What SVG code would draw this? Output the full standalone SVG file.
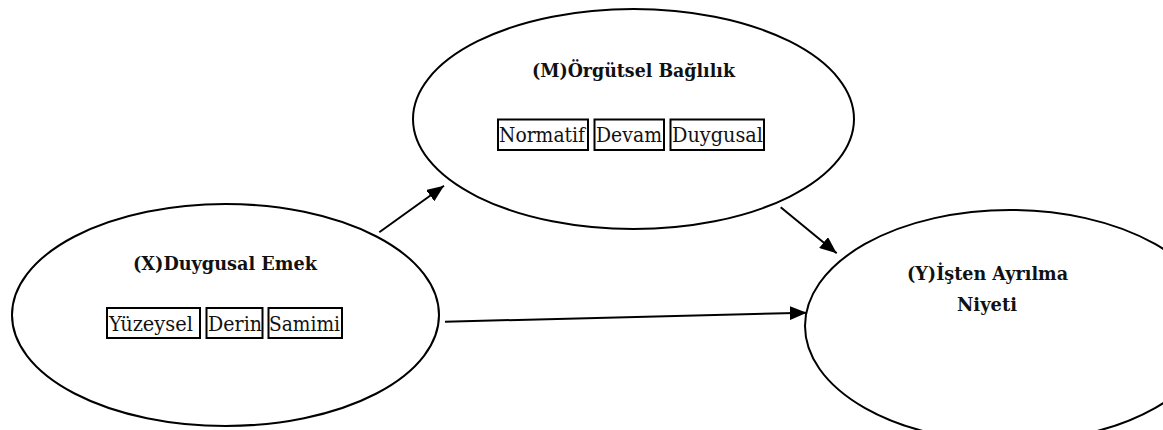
<svg xmlns="http://www.w3.org/2000/svg" width="1163" height="430" viewBox="0 0 1163 430">
<style>
.node ellipse{fill:#fff;stroke:#000;stroke-width:2}
.title{font-family:"DejaVu Serif",serif;font-weight:bold;font-size:19px;fill:#111}
.item{font-family:"DejaVu Serif",serif;font-size:20.5px;fill:#111}
.box{fill:none;stroke:#000;stroke-width:2}
.conn line{stroke:#000;stroke-width:2;marker-end:url(#arr)}
</style>
<defs>
<marker id="arr" markerUnits="userSpaceOnUse" markerWidth="18" markerHeight="14" refX="17" refY="7" orient="auto">
<path d="M0,0 L17,7 L0,14 z" fill="#000"/>
</marker>
</defs>
<rect width="1163" height="430" fill="#fff"/>
<g id="node-X" class="node">
<ellipse cx="225.5" cy="315" rx="213.5" ry="111"/>
<text class="title" x="133" y="270" textLength="184" lengthAdjust="spacingAndGlyphs">(X)Duygusal Emek</text>
<rect class="box" x="107" y="308" width="93" height="30"/>
<rect class="box" x="206.5" y="308" width="56" height="30"/>
<rect class="box" x="268.5" y="308" width="73.5" height="30"/>
<text class="item" x="109" y="331" textLength="84" lengthAdjust="spacingAndGlyphs">Yüzeysel</text>
<text class="item" x="208" y="331" textLength="54" lengthAdjust="spacingAndGlyphs">Derin</text>
<text class="item" x="269" y="331" textLength="71" lengthAdjust="spacingAndGlyphs">Samimi</text>
</g>
<g id="node-M" class="node">
<ellipse cx="633.5" cy="119" rx="220.5" ry="110"/>
<text class="title" x="532" y="77" textLength="203" lengthAdjust="spacingAndGlyphs">(M)Örgütsel Bağlılık</text>
<rect class="box" x="498" y="119.5" width="90" height="30.5"/>
<rect class="box" x="594.5" y="119.5" width="69.5" height="30.5"/>
<rect class="box" x="670.5" y="119.5" width="93.5" height="30.5"/>
<text class="item" x="499" y="142" textLength="86" lengthAdjust="spacingAndGlyphs">Normatif</text>
<text class="item" x="596" y="142" textLength="66" lengthAdjust="spacingAndGlyphs">Devam</text>
<text class="item" x="672" y="142" textLength="91" lengthAdjust="spacingAndGlyphs">Duygusal</text>
</g>
<g id="node-Y" class="node">
<ellipse cx="1010" cy="326" rx="205" ry="116"/>
<text class="title" x="907" y="280" textLength="161" lengthAdjust="spacingAndGlyphs">(Y)İşten Ayrılma</text>
<text class="title" x="957" y="311" textLength="60" lengthAdjust="spacingAndGlyphs">Niyeti</text>
</g>
<g id="connectors" class="conn">
<line x1="379.3" y1="232.3" x2="444" y2="185.7"/>
<line x1="780.7" y1="207.3" x2="836.7" y2="253.3"/>
<line x1="445" y1="321.7" x2="806.7" y2="312.7"/>
</g>
</svg>
